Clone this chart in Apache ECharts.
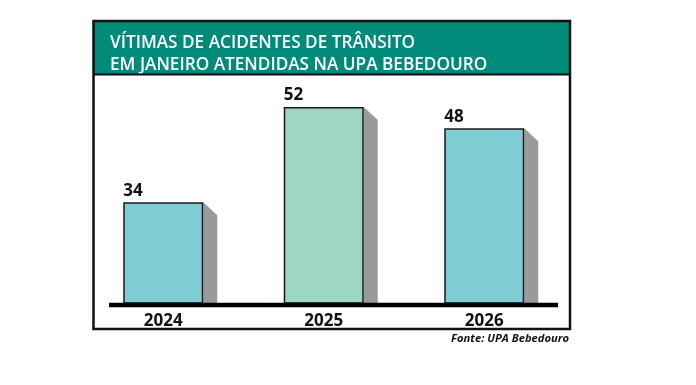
<!DOCTYPE html>
<html><head><meta charset="utf-8">
<script src="https://cdn.jsdelivr.net/npm/echarts@6/dist/echarts.min.js"></script>
<style>html,body{margin:0;padding:0;background:#fff}#c{width:696px;height:385px}</style>
</head><body><div id="c"></div>
<script>
const categories = ['2024', '2025', '2026'];
const values = [34, 52, 48];
const barColors = ['#7fcdd4', '#9dd6c1', '#7fcdd4'];
const titleText = 'VÍTIMAS DE ACIDENTES DE TRÂNSITO\nEM JANEIRO ATENDIDAS NA UPA BEBEDOURO';
const sourceText = 'Fonte: UPA Bebedouro';

const Y_MIN = 15, Y_MAX = 52;
const BAR_W = 80;
const FONT = '"Open Sans", "Noto Sans", sans-serif';

const chart = echarts.init(document.getElementById('c'), null, {renderer: 'canvas'});
chart.setOption({
  animation: false,
  backgroundColor: '#fff',
  title: {
    text: titleText,
    left: 105, top: 27,
    textStyle: {color: '#fff', fontSize: 17.2, fontWeight: 600, fontFamily: FONT, lineHeight: 22}
  },
  grid: {left: 83, right: 131.5, top: 107, bottom: 82},
  xAxis: {
    type: 'category', data: categories,
    axisLine: {show: false}, axisTick: {show: false},
    axisLabel: {color: '#111', fontSize: 17, fontWeight: 700, fontFamily: FONT, margin: 10}
  },
  yAxis: {type: 'value', min: Y_MIN, max: Y_MAX, show: false, splitLine: {show: false}},
  graphic: [
    {type: 'rect', z: -10, shape: {x: 93.5, y: 21, width: 476.5, height: 53}, style: {fill: '#008a7a'}},
    {type: 'rect', z: 100, shape: {x: 93.5, y: 21, width: 476.5, height: 308}, style: {fill: null, stroke: '#111', lineWidth: 2.5}},
    {type: 'line', z: 100, shape: {x1: 93.5, y1: 74.5, x2: 570, y2: 74.5}, style: {stroke: '#111', lineWidth: 2}},
    {type: 'line', z: 100, shape: {x1: 109, y1: 305, x2: 558, y2: 305}, style: {stroke: '#000', lineWidth: 4.5}},
    {type: 'text', z: 100, style: {text: sourceText, x: 569, y: 333, align: 'right', verticalAlign: 'top',
      fill: '#111', fontSize: 11.2, fontStyle: 'italic', fontWeight: 700, fontFamily: FONT}}
  ],
  series: [
    {
      type: 'custom', z: 1,
      data: values.map((v, i) => [i, v]),
      encode: {x: 0, y: 1},
      renderItem: function (params, api) {
        const top = api.coord([api.value(0), api.value(1)]);
        const base = api.coord([api.value(0), Y_MIN]);
        const x0 = top[0] + BAR_W / 2;
        return {
          type: 'polygon',
          shape: {points: [[x0, top[1]], [x0 + 14, top[1] + 13], [x0 + 14, base[1]], [x0, base[1]]]},
          style: {fill: '#9a999e'}
        };
      }
    },
    {
      type: 'bar', z: 2, barWidth: BAR_W,
      data: values.map((v, i) => ({value: v, itemStyle: {color: barColors[i]}})),
      itemStyle: {borderColor: '#1a1a1a', borderWidth: 1.5},
      label: {show: true, position: [0, -20], color: '#111', fontSize: 17, fontWeight: 700, fontFamily: FONT}
    }
  ]
});
</script></body></html>
